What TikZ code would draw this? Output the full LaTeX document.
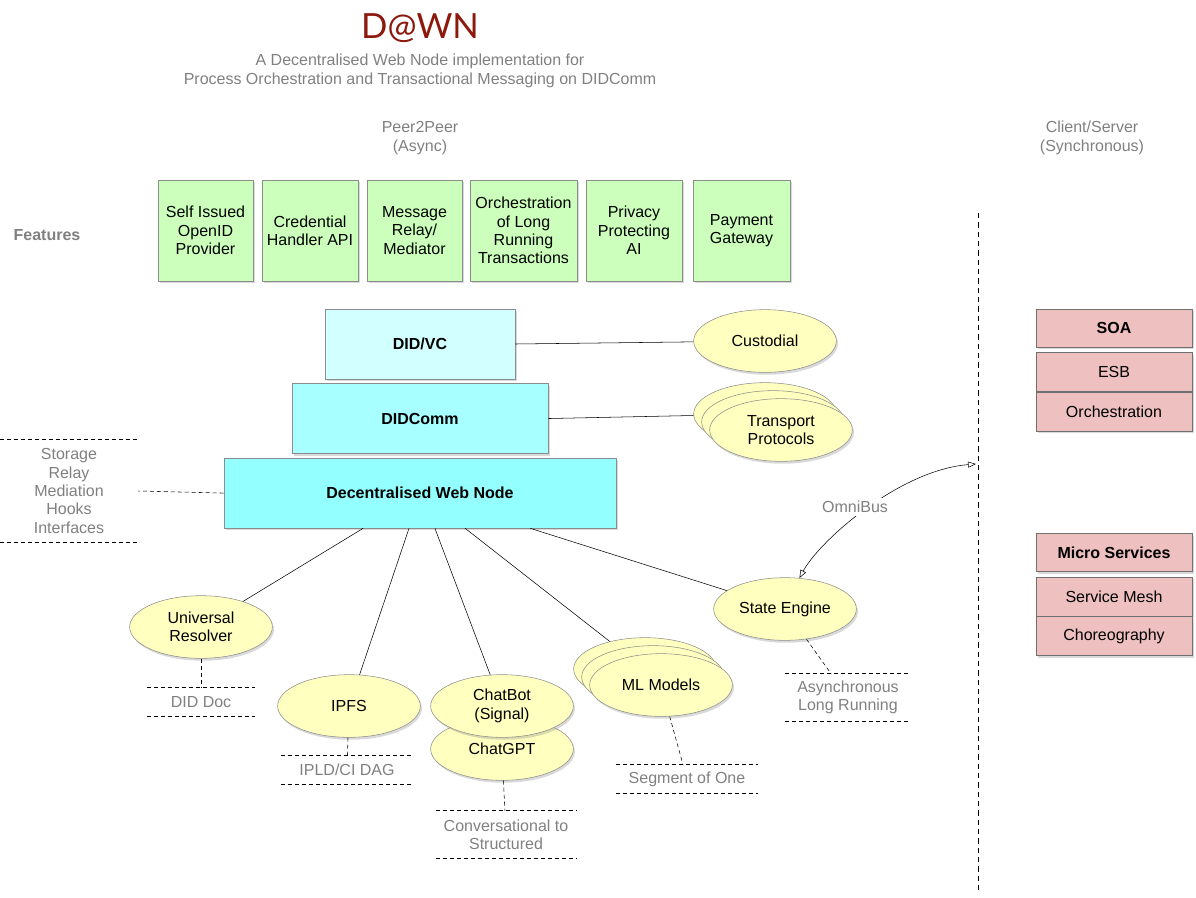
\documentclass[tikz,border=0pt]{standalone}
\usepackage{fontspec}
\setmainfont{Liberation Sans}
\newfontfamily\titlefont{Lato}
\usetikzlibrary{arrows,arrows.meta,positioning,shapes.geometric,shadows,calc}
\definecolor{featgreen}{HTML}{CCFFBB}
\definecolor{didlight}{HTML}{D2FFFF}
\definecolor{didmid}{HTML}{A8FFFF}
\definecolor{dwncyan}{HTML}{94FFFF}
\definecolor{ellyellow}{HTML}{FFFFBF}
\definecolor{sidepink}{HTML}{EFC0C0}
\definecolor{boxline}{HTML}{8C8C8C}
\definecolor{sideline}{HTML}{707070}
\definecolor{notegray}{HTML}{808080}
\definecolor{titlered}{HTML}{8B1A0C}

\begin{document}
\begin{tikzpicture}[x=0.75pt, y=-0.75pt, font=\fontsize{12}{13.8}\selectfont,
    shdw/.style={drop shadow={shadow xshift=1.2pt, shadow yshift=-1.8pt, opacity=.3}},
    feat/.style={draw=boxline, fill=featgreen, minimum height=75.75pt, align=center, inner sep=1pt, shdw},
    layer/.style={draw=boxline, minimum height=52.5pt, font=\fontsize{12}{13.8}\selectfont\bfseries, shdw},
    ell/.style={ellipse, draw=boxline, fill=ellyellow, minimum width=107pt, minimum height=47pt, inner sep=0pt, align=center, shdw},
    side/.style={draw=sideline, fill=sidepink, minimum width=117pt, minimum height=29.25pt, inner sep=0pt, shdw},
    note/.style={text=notegray, align=center, inner sep=0pt},
    dl/.style={dash pattern=on 3pt off 2.25pt, thin}]
\useasboundingbox (0,0) rectangle (1196,897);
%
\node[font=\titlefont\fontsize{26}{30}\selectfont, text=titlered] (title) at (420,28) {D@WN};
\node[note] (sub) at (420,71) {A Decentralised Web Node implementation for\\Process Orchestration and Transactional Messaging on DIDComm};
\node[note] (p2p) at (420,138) {Peer2Peer\\(Async)};
\node[note] (cs)  at (1092,138) {Client/Server\\(Synchronous)};
\node[note, font=\fontsize{12}{13.8}\selectfont\bfseries] (feats) at (47,235) {Features};
%
\foreach \x/\w/\t [count=\i] in {205.5/71.25/{Self Issued\\OpenID\\Provider},
        310/72/{Credential\\Handler API}, 414.5/71.25/{Message\\Relay/\\Mediator},
        523.5/80.25/{Orchestration\\of Long\\Running\\Transactions},
        634/72/{Privacy\\Protecting\\AI}, 741.5/72.75/{Payment\\Gateway}}
    \node[feat, minimum width=\w pt] (f\i) at (\x,230.5) {\t};
%
\node[layer, fill=didlight, minimum width=142.5pt] (didvc) at (420,344) {DID/VC};
\node[layer, fill=didmid, minimum width=192pt, below=3pt of didvc] (didcomm) {DIDComm};
\node[layer, fill=dwncyan, minimum width=294pt, below=3pt of didcomm] (dwn) {Decentralised Web Node};
%
\node[ell] (cust) at (765,341) {Custodial};
\node[ell] (tp1) at (765,414) {};
\node[ell] (tp2) at ([shift={(8,8)}]tp1) {};
\node[ell] (tp3) at ([shift={(8,8)}]tp2) {Transport\\Protocols};
\draw (didvc.east) -- (cust);
\draw (didcomm.east) -- (tp1);
%
\node[note, minimum width=103.5pt, minimum height=76.5pt] (iface) at (69,491)
    {Storage\\Relay\\Mediation\\Hooks\\Interfaces};
\draw[dl] (dwn.west) -- (iface.east);
%
\node[ell] (ur) at (201,627) {Universal\\Resolver};
\node[ell] (ipfs) at (349,706) {IPFS};
\node[ell] (cgpt) at (502,749) {ChatGPT};
\node[ell] (cbot) at (502,706) {ChatBot\\(Signal)};
\node[ell] (ml1) at (645,669) {};
\node[ell] (ml2) at ([shift={(8,8)}]ml1) {};
\node[ell] (ml3) at ([shift={(8,8)}]ml2) {ML Models};
\node[ell] (se) at (785,609) {State Engine};
\foreach \f/\e in {.355/ur, .472/ipfs, .538/cbot, .615/ml1, .781/se}
    \draw ($(dwn.south west)!\f!(dwn.south east)$) -- (\e);
%
\node[note, minimum width=81pt, minimum height=21pt] (dd) at (201,702) {DID Doc};
\node[note, minimum width=99pt, minimum height=21pt] (ipld) at (347,770) {IPLD/CI DAG};
\node[note, minimum width=105pt, minimum height=35.25pt] (conv) at (506,834.5) {Conversational to\\Structured};
\node[note, minimum width=106.5pt, minimum height=21pt] (seg) at (687,779) {Segment of One};
\node[note, minimum width=93.75pt, minimum height=35.25pt] (asy) at (848,697.5) {Asynchronous\\Long Running};
\foreach \n in {iface, dd, ipld, conv, seg, asy} {
    \draw[dl] (\n.north west) -- (\n.north east);
    \draw[dl] (\n.south west) -- (\n.south east);
}
\foreach \a/\b in {ur/dd, ipfs/ipld, cgpt/conv, ml3/seg, se/asy}
    \draw[dl] (\a) -- (\b);
%
\coordinate (vt) at (978,213);
\coordinate (vb) at (978,890);
\coordinate (bus) at (976,464);
\draw[dash pattern=on 4pt off 3pt] (vt) -- (vb);
\draw[thin, {Triangle[open, length=6pt, width=4.5pt]}-{Triangle[open, length=6pt, width=4.5pt]}]
    (se.65) .. controls (820,540) and (900,470) .. (bus);
\node[note, fill=white, inner sep=2pt] (omni) at (855,507) {OmniBus};
%
\node[side, font=\fontsize{12}{13.8}\selectfont\bfseries, minimum height=28.5pt] (soa) at (1114,328) {SOA};
\node[side, below=3.75pt of soa] (esb) {ESB};
\node[side, below=0pt of esb] (orch) {Orchestration};
\node[side, font=\fontsize{12}{13.8}\selectfont\bfseries, minimum height=28.5pt] (micro) at (1114,552.5) {Micro Services};
\node[side, below=3.75pt of micro] (mesh) {Service Mesh};
\node[side, below=0pt of mesh] (chor) {Choreography};
\end{tikzpicture}
\end{document}
